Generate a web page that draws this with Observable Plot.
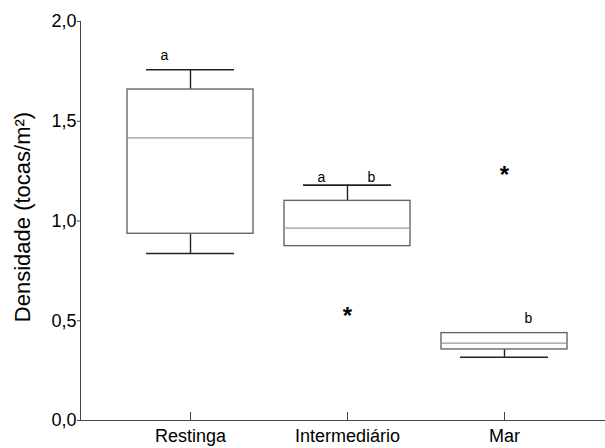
<!DOCTYPE html>
<html>
<head>
<meta charset="utf-8">
<script src="https://cdn.jsdelivr.net/npm/d3@7"></script>
<script src="https://cdn.jsdelivr.net/npm/@observablehq/plot@0.6"></script>
<style>
  html, body { margin: 0; padding: 0; background: #fff; }
  #chart { width: 605px; height: 448px; }
</style>
</head>
<body>
<div id="chart"></div>
<script>
// Data
const categories = ["Restinga", "Intermediário", "Mar"];
const whiskerLow = [0.837, null, 0.317];
const q1 = [0.936, 0.874, 0.356];
const median = [1.417, 0.964, 0.388];
const q3 = [1.659, 1.101, 0.438];
const whiskerHigh = [1.758, 1.18, null];

const outlierCats = ["Intermediário", "Mar"];
const outlierValues = [0.535, 1.245];

const letterCats = ["Restinga", "Intermediário", "Intermediário", "Mar"];
const letterTexts = ["a", "a", "b", "b"];
const letterValues = [1.83, 1.22, 1.22, 0.51];
const letterSides = ["left", "left", "right", "right"];

const yTicks = [0, 0.5, 1.0, 1.5, 2.0];
const yLabel = "Densidade (tocas/m²)";

// Build tables
const boxes = categories.map((c, i) => ({cat: c, lo: whiskerLow[i], q1: q1[i], med: median[i], q3: q3[i], hi: whiskerHigh[i]}));
const upper = boxes.filter(d => d.hi != null);
const lower = boxes.filter(d => d.lo != null);
const outliers = outlierCats.map((c, i) => ({cat: c, v: outlierValues[i]}));
const letters = letterCats.map((c, i) => ({cat: c, t: letterTexts[i], v: letterValues[i], side: letterSides[i]}));

const W = 605, H = 448, ML = 80, MR = 0, MT = 21, MB = 28;
const frameH = H - MT - MB;

const plot = Plot.plot({
  width: W,
  height: H,
  marginLeft: ML,
  marginRight: MR,
  marginTop: MT,
  marginBottom: MB,
  style: {fontFamily: "'Liberation Sans', Arial, sans-serif", color: "#000", background: "#fff"},
  x: {type: "band", domain: categories, paddingInner: 0.2, paddingOuter: 0.243, insetLeft: 9, axis: null},
  y: {domain: [0, 2], axis: null},
  marks: [
    // axes lines
    Plot.frame({anchor: "left", stroke: "#444"}),
    Plot.ruleY([0], {stroke: "#444"}),
    // y axis ticks & labels
    Plot.axisY({ticks: yTicks, tickSize: 3, tickPadding: 1, fontSize: 18, stroke: "#444",
      tickFormat: d => d.toFixed(1).replace(".", ","), label: null}),
    // x axis ticks (pointing up) & labels
    Plot.tickX(categories, {x: d => d, insetTop: frameH - 8, stroke: "#444"}),
    Plot.axisX({tickSize: 0, tickPadding: 9, fontSize: 18, label: null}),
    // y label
    Plot.text([yLabel], {text: d => d, frameAnchor: "left", textAnchor: "middle", rotate: -90, dx: -58, dy: -4, fontSize: 22}),
    // whiskers
    Plot.ruleX(upper, {x: "cat", y1: "q3", y2: "hi", stroke: "#222", strokeWidth: 1.4}),
    Plot.ruleX(lower, {x: "cat", y1: "lo", y2: "q1", stroke: "#222", strokeWidth: 1.4}),
    Plot.tickY(upper, {x: "cat", y: "hi", insetLeft: 19, insetRight: 19, stroke: "#222", strokeWidth: 1.6}),
    Plot.tickY(lower, {x: "cat", y: "lo", insetLeft: 19, insetRight: 19, stroke: "#222", strokeWidth: 1.6}),
    // boxes
    Plot.barY(boxes, {x: "cat", y1: "q1", y2: "q3", fill: "#fff", stroke: "#666", strokeWidth: 1.4}),
    Plot.tickY(boxes, {x: "cat", y: "med", stroke: "#999", strokeWidth: 1.3, insetLeft: 1, insetRight: 1}),
    // outliers
    Plot.text(outliers, {x: "cat", y: "v", text: () => "*", fontSize: 24, fontWeight: "bold", dy: 3, fill: "#000"}),
    // letters
    Plot.text(letters.filter(d => d.side === "left"), {x: "cat", y: "v", text: "t", fontSize: 14, dx: -26, fill: "#000"}),
    Plot.text(letters.filter(d => d.side === "right"), {x: "cat", y: "v", text: "t", fontSize: 14, dx: 24, fill: "#000"})
  ]
});
document.getElementById("chart").appendChild(plot);
</script>
</body>
</html>
